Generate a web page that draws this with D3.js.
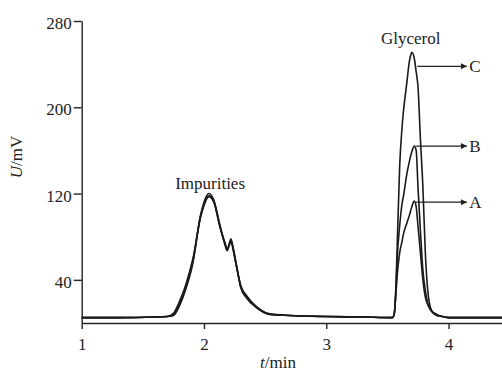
<!DOCTYPE html>
<html>
<head>
<meta charset="utf-8">
<script src="https://cdn.jsdelivr.net/npm/d3@7"></script>
<style>
  body { margin: 0; background: #fff; }
  text { font-family: 'Liberation Serif', 'Times New Roman', serif; fill: #222; }
</style>
</head>
<body>
<div id="chart"></div>
<script>
// retention time (min)
const times = [1.0, 1.3, 1.6, 1.7, 1.75, 1.8, 1.85, 1.91, 1.97, 2.0,
  2.04, 2.08, 2.13, 2.17, 2.19, 2.21, 2.22, 2.24, 2.27, 2.3,
  2.35, 2.43, 2.54, 2.7, 3.0, 3.3, 3.54, 3.555, 3.57, 3.58,
  3.6, 3.62, 3.63, 3.66, 3.68, 3.69, 3.7, 3.72, 3.735, 3.75,
  3.77, 3.79, 3.81, 3.83, 3.86, 3.9, 3.95, 4.0, 4.2, 4.45];

// detector signal (mV)
const seriesA = [5, 5, 5.5, 6, 9, 20, 35, 60, 97, 109,
  117, 112, 90, 75, 69, 73, 76, 67, 50, 35,
  25, 15, 8.5, 7, 6, 5.5, 5, 8, 28, 44,
  65, 76, 82, 93, 100, 104, 108, 113, 108, 90,
  65, 40, 24, 17, 11, 8, 6, 5, 5, 5];
const seriesB = [5, 5, 5.5, 6, 8, 18, 33, 58, 98, 110,
  118, 113, 89, 74, 68, 74, 77, 68, 50, 34,
  24, 15, 8, 7, 6, 5.5, 5, 8, 32, 60,
  90, 111, 117, 139, 150, 155, 159, 164, 160, 126,
  85, 49, 30, 18, 11, 7, 6, 5, 5, 5];
const seriesC = [5, 5, 5.5, 6, 7, 16, 31, 56, 99, 112,
  120, 114, 91, 73, 67, 75, 78, 69, 51, 33,
  23, 14, 8, 7, 6, 5.5, 5, 8, 36, 72,
  145, 182, 195, 224, 243, 248, 251, 245, 233, 219,
  170, 126, 65, 30, 12, 8, 6, 5, 5, 5];

const seriesNames = ['A', 'B', 'C'];
const arrowLevels = [112, 164, 238];
const arrowStart = [3.735, 3.735, 3.745];
const yTicks = [40, 120, 200, 280];
const xTicks = [1, 2, 3, 4];

const width = 502, height = 372;
const svg = d3.select('#chart').append('svg')
  .attr('width', width).attr('height', height);

const x = d3.scaleLinear().domain([1, 4.45]).range([81.7, 503.6]);
const y = d3.scaleLinear().domain([0, 280]).range([323, 21]);

svg.append('defs').append('marker')
  .attr('id', 'head')
  .attr('viewBox', '0 0 10 10')
  .attr('refX', 10).attr('refY', 5)
  .attr('markerWidth', 8).attr('markerHeight', 6)
  .attr('markerUnits', 'userSpaceOnUse')
  .attr('orient', 'auto')
  .append('path').attr('d', 'M0,0L10,5L0,10Z').attr('fill', '#222');

// traces
const line = d3.line()
  .x((d, i) => x(times[i]))
  .y(d => y(d))
  .curve(d3.curveMonotoneX);

svg.append('g')
  .selectAll('path')
  .data([seriesA, seriesB, seriesC])
  .enter().append('path')
  .attr('d', line)
  .attr('fill', 'none')
  .attr('stroke', '#1a1a1a')
  .attr('stroke-width', 1.6);

// axes
const xAxis = g => g
  .attr('transform', `translate(0,${y(0)})`)
  .call(d3.axisBottom(x).tickValues(xTicks).tickFormat(d3.format('d'))
    .tickSize(6).tickPadding(9).tickSizeOuter(0));

const yAxis = g => g
  .attr('transform', `translate(${x(1)},0)`)
  .call(d3.axisLeft(y).tickValues(yTicks).tickSize(8).tickPadding(2).tickSizeOuter(0));

svg.append('g').call(xAxis);
svg.append('g').call(yAxis)
  .selectAll('text').attr('dy', '0.45em');

svg.selectAll('.domain, .tick line')
  .attr('stroke', '#222').attr('stroke-width', 1.4);
svg.selectAll('.tick text')
  .style('font-family', "'Liberation Serif', serif")
  .style('font-size', '17px')
  .attr('fill', '#222');

// peak annotations
svg.append('text')
  .attr('x', x(2.05)).attr('y', y(124))
  .attr('text-anchor', 'middle').style('font-size', '17px')
  .text('Impurities');

svg.append('text')
  .attr('x', x(3.69)).attr('y', y(256) - 3)
  .attr('text-anchor', 'middle').style('font-size', '17px')
  .text('Glycerol');

const ann = svg.append('g');
seriesNames.forEach((name, i) => {
  ann.append('line')
    .attr('x1', x(arrowStart[i])).attr('x2', x(4.15))
    .attr('y1', y(arrowLevels[i])).attr('y2', y(arrowLevels[i]))
    .attr('stroke', '#222').attr('stroke-width', 1.3)
    .attr('marker-end', 'url(#head)');
  ann.append('text')
    .attr('x', x(4.17)).attr('y', y(arrowLevels[i]))
    .attr('dy', '0.35em').style('font-size', '17px')
    .text(name);
});

// axis titles
const yt = svg.append('text')
  .attr('transform', 'translate(22,157) rotate(-90)')
  .attr('text-anchor', 'middle').style('font-size', '17px');
yt.append('tspan').style('font-style', 'italic').text('U');
yt.append('tspan').text('/mV');

const xt = svg.append('text')
  .attr('x', 278).attr('y', 368)
  .attr('text-anchor', 'middle').style('font-size', '17px');
xt.append('tspan').style('font-style', 'italic').text('t');
xt.append('tspan').text('/min');
</script>
</body>
</html>
